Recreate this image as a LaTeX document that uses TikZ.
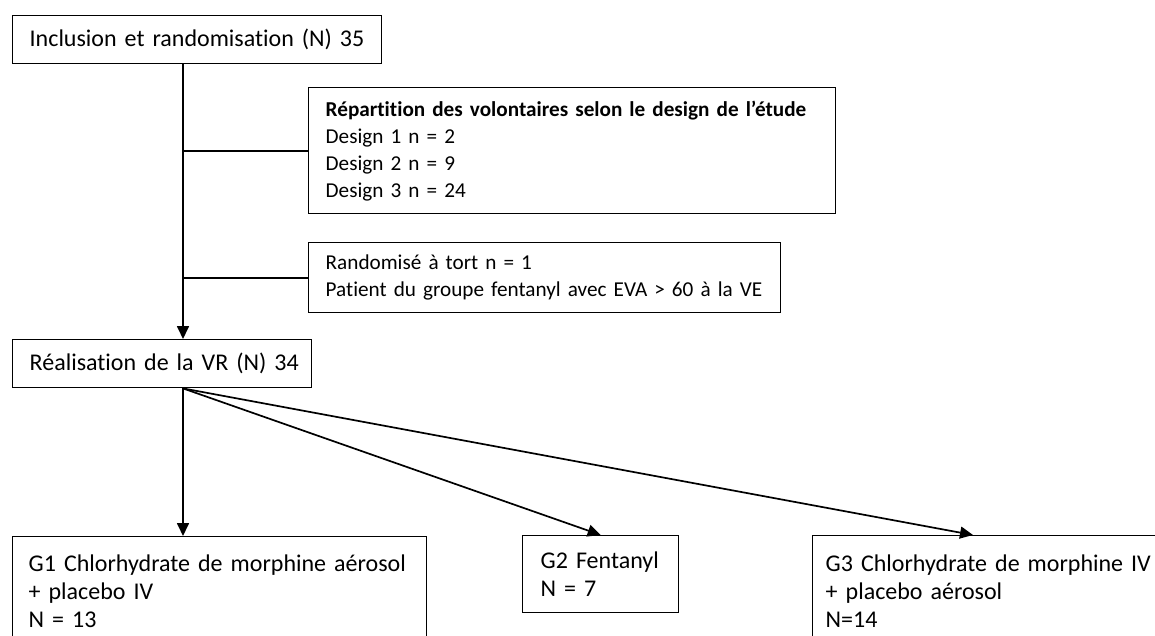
\documentclass[tikz,border=0pt]{standalone}
\usepackage{fontspec}
\setmainfont{Carlito}[Ligatures=NoCommon]
\usetikzlibrary{arrows.meta}

\begin{document}
\begin{tikzpicture}[x=1pt, y=-1pt, >={Triangle[length=13pt, width=12pt]}, line width=1.7pt,
  boite/.style={draw, line width=1.4pt, anchor=north west, align=left,
    inner xsep=17pt, inner ysep=0pt, font=\fontsize{24}{28}\selectfont},
  petite/.style={font=\fontsize{21.2}{27}\selectfont}]
  \useasboundingbox (0,0) rectangle (1155,636);
  % boites du haut
  \node[boite, text width=335pt, minimum height=48pt] (incl) at (12,15)
    {\mbox{Inclusion et randomisation (N) 35}};
  \node[boite, petite, text width=493pt, minimum height=126pt] (rep) at (308,87)
    {\mbox{\textbf{Répartition des volontaires selon le design de l’étude}}\\Design 1 n = 2\\Design 2 n = 9\\Design 3 n = 24};
  \node[boite, petite, text width=438pt, minimum height=70pt] (rand) at (308,242)
    {Randomisé à tort n = 1\\\mbox{Patient du groupe fentanyl avec EVA > 60 à la VE}};
  \node[boite, text width=265pt, minimum height=48pt] (real) at (12,339)
    {\mbox{Réalisation de la VR (N) 34}};
  % groupes
  \node[boite, inner xsep=16pt, text width=382pt, minimum height=110pt] (g1) at (12,536)
    {\mbox{G1 Chlorhydrate de morphine aérosol}\\+ placebo IV\\N = 13};
  \node[boite, inner xsep=18pt, text width=120pt, minimum height=77pt] (g2) at (522,535)
    {\mbox{G2 Fentanyl}\\N = 7};
  \node[boite, inner xsep=13pt, text width=400pt, minimum height=110pt] (g3) at (812,535)
    {G3 Chlorhydrate de morphine IV\\+ placebo aérosol\\N=14};
  % tronc principal et branches
  \coordinate (tronc) at ([xshift=171pt]incl.south west);
  \draw[->] (tronc) -- (tronc |- real.north);
  \draw (tronc |- rep.west) -- (rep.west);
  \draw (tronc |- rand.west) -- (rand.west);
  % vers les groupes
  \coordinate (depart) at (tronc |- real.south);
  \draw[->] (depart) -- (depart |- g1.north);
  \draw[->] (depart) -- (g2.north);
  \draw[->] (depart) -- ([xshift=161pt]g3.north west);
\end{tikzpicture}
\end{document}
